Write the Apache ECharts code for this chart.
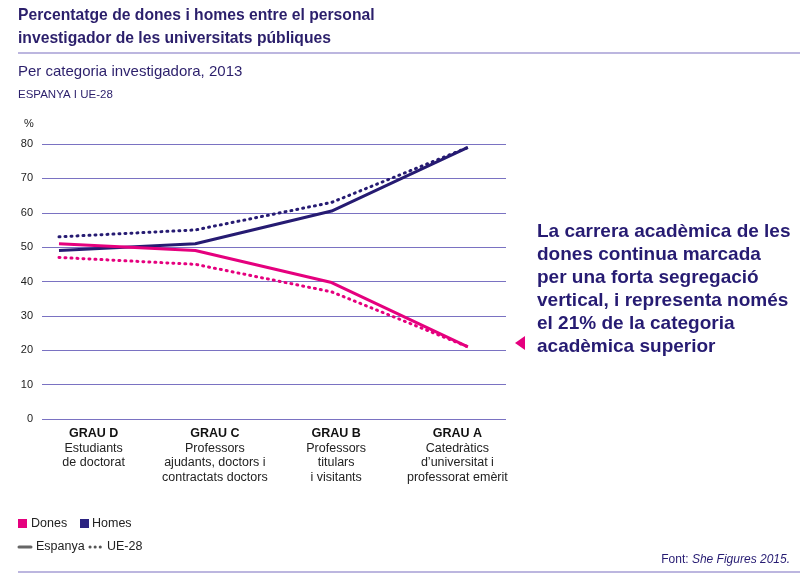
<!DOCTYPE html>
<html>
<head>
<meta charset="utf-8">
<script src="https://cdn.jsdelivr.net/npm/echarts@6/dist/echarts.min.js"></script>
<style>
  html, body { margin: 0; padding: 0; background: #fff; }
  #chart { width: 800px; height: 573px; }
</style>
</head>
<body>
<div id="chart"></div>
<script>
// categories (x positions 0..3) and their descriptions
const categories = ['GRAU D', 'GRAU C', 'GRAU B', 'GRAU A'];
const catDescriptions = [
   ['Estudiants', 'de doctorat'],
   ['Professors', 'ajudants, doctors i', 'contractats doctors'],
   ['Professors', 'titulars', 'i visitants'],
   ['Catedràtics', 'd\u2019universitat i', 'professorat emèrit']
];

// percent values
const donesEspanya = [51, 49, 39.7, 21];
const homesEspanya = [49, 51, 60.5, 79];
const donesUE = [47, 45, 37, 21];
const homesUE = [53, 55, 63, 79];

const yTicks = { min: 0, max: 80, interval: 10 };

const PINK = '#e5007e';
const NAVY = '#261b72';
const GRID = '#7a72c2';
const TXT = '#2b1f6b';
const FONT = "'Liberation Sans', 'Noto Sans', sans-serif";

function pts(arr) { return arr.map((v, i) => [i, v]); }

const chart = echarts.init(document.getElementById('chart'));

const option =
{
   animation: false,
   textStyle: { fontFamily: FONT },
   grid:
   [
      { left: 42, right: 294, top: 144, bottom: 154 },
      { left: 33, width: 485, top: 144, bottom: 154 }
   ],
   xAxis:
   [
      {
         gridIndex: 0, type: 'value', min: -0.1247, max: 3.2795,
         show: false, splitLine: { show: false }
      },
      {
         gridIndex: 1, type: 'category', data: categories,
         axisLine: { show: false }, axisTick: { show: false },
         axisLabel:
         {
            margin: 7,
            interval: 0,
            formatter: function (val, idx)
            {
               var s = '{t|' + val + '}';
               for (const d of catDescriptions[idx]) s += '\n{d|' + d + '}';
               return s;
            },
            rich:
            {
               t: { fontFamily: FONT, fontWeight: 'bold', fontSize: 12.5, color: '#111', lineHeight: 15 },
               d: { fontFamily: FONT, fontSize: 12.5, color: '#222', lineHeight: 14.5 }
            }
         }
      }
   ],
   yAxis:
   [
      {
         gridIndex: 0, type: 'value',
         min: yTicks.min, max: yTicks.max, interval: yTicks.interval,
         axisLine: { show: false }, axisTick: { show: false },
         axisLabel: { fontSize: 11, color: '#222', margin: 9, padding: [0, 0, 4, 0] },
         splitLine: { lineStyle: { color: GRID, width: 1.2 } }
      },
      { gridIndex: 1, type: 'value', min: 0, max: 80, show: false, splitLine: { show: false } }
   ],
   series:
   [
      { name: 'Homes UE-28', type: 'line', data: pts(homesUE), symbol: 'none',
        lineStyle: { color: NAVY, width: 3, type: [1, 5], cap: 'round' } },
      { name: 'Dones UE-28', type: 'line', data: pts(donesUE), symbol: 'none',
        lineStyle: { color: PINK, width: 3, type: [1, 5], cap: 'round' } },
      { name: 'Homes Espanya', type: 'line', data: pts(homesEspanya), symbol: 'none',
        lineStyle: { color: NAVY, width: 3 } },
      { name: 'Dones Espanya', type: 'line', data: pts(donesEspanya), symbol: 'none',
        lineStyle: { color: PINK, width: 3 } }
   ],
   graphic:
   [
      // title block
      { type: 'text', left: 18, top: 4, style: {
         text: 'Percentatge de dones i homes entre el personal\ninvestigador de les universitats públiques',
         font: 'bold 15.7px ' + FONT, fill: TXT, lineHeight: 23 } },
      { type: 'line', shape: { x1: 18, y1: 53, x2: 800, y2: 53 }, style: { stroke: '#bcb6df', lineWidth: 2 } },
      { type: 'text', left: 18, top: 64, style: {
         text: 'Per categoria investigadora, 2013', font: '15px ' + FONT, fill: TXT } },
      { type: 'text', left: 18, top: 89, style: {
         text: 'ESPANYA I UE-28', font: '11.5px ' + FONT, fill: TXT } },
      { type: 'text', left: 24, top: 118, style: { text: '%', font: '11px ' + FONT, fill: '#222' } },

      // annotation
      { type: 'polygon', shape: { points: [[515, 343], [525, 336], [525, 350]] }, style: { fill: PINK } },
      { type: 'text', left: 537, top: 220, style: {
         text: 'La carrera acadèmica de les\ndones continua marcada\nper una forta segregació\nvertical, i representa només\nel 21% de la categoria\nacadèmica superior',
         font: 'bold 19px ' + FONT, fill: NAVY, lineHeight: 23 } },

      // legend
      { type: 'rect', shape: { x: 18, y: 519, width: 9, height: 9 }, style: { fill: PINK } },
      { type: 'text', left: 31, top: 517, style: { text: 'Dones', font: '12.5px ' + FONT, fill: '#222' } },
      { type: 'rect', shape: { x: 80, y: 519, width: 9, height: 9 }, style: { fill: '#2b2380' } },
      { type: 'text', left: 92, top: 517, style: { text: 'Homes', font: '12.5px ' + FONT, fill: '#222' } },
      { type: 'line', shape: { x1: 19, y1: 547, x2: 31, y2: 547 }, style: { stroke: '#666', lineWidth: 3, lineCap: 'round' } },
      { type: 'text', left: 36, top: 540, style: { text: 'Espanya', font: '12.5px ' + FONT, fill: '#222' } },
      { type: 'line', shape: { x1: 90, y1: 547, x2: 102, y2: 547 }, style: { stroke: '#555', lineWidth: 3, lineDash: [0.1, 5], lineCap: 'round' } },
      { type: 'text', left: 107, top: 540, style: { text: 'UE-28', font: '12.5px ' + FONT, fill: '#222' } },

      // source
      { type: 'text', right: 10, top: 554, style: {
         rich: {
            a: { font: '12px ' + FONT, fill: NAVY },
            b: { font: 'italic 12px ' + FONT, fill: NAVY }
         },
         text: '{a|Font: }{b|She Figures 2015.}' } },
      { type: 'line', shape: { x1: 18, y1: 572, x2: 800, y2: 572 }, style: { stroke: '#bcb6df', lineWidth: 2 } }
   ]
};

chart.setOption(option);
</script>
</body>
</html>
